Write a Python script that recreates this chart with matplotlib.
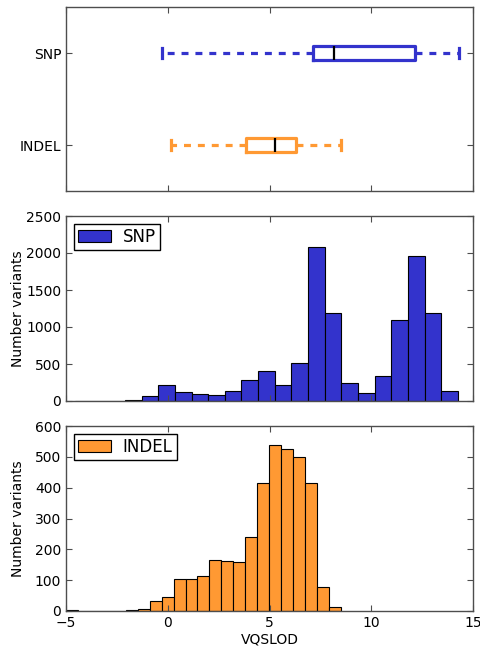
import numpy as np
import matplotlib
matplotlib.use("Agg")
import matplotlib.pyplot as plt

# ---------------- data ----------------
labels = ["INDEL", "SNP"]
# box statistics: whisker low, q1, median, q3, whisker high
indel_box = [0.18, 3.84, 5.26, 6.29, 8.5]
snp_box = [-0.28, 7.16, 8.19, 12.14, 14.31]

snp_range = (-4.56, 14.26)
snp_counts = [2, 0, 4, 10, 63, 220, 127, 100, 86, 140, 285, 403, 213, 520,
              2077, 1195, 244, 104, 339, 1090, 1955, 1186, 131]
indel_range = (-5.0, 8.51)
indel_counts = [2, 0, 0, 1, 1, 2, 5, 33, 47, 103, 105, 115, 164, 163, 160,
                241, 415, 540, 526, 500, 415, 79, 14]

xticks = [-5, 0, 5, 10, 15]
snp_yticks = [0, 500, 1000, 1500, 2000, 2500]
indel_yticks = [0, 100, 200, 300, 400, 500, 600]

snp_color = "#3333cc"
indel_color = "#ff9933"

plt.rcParams["font.family"] = "DejaVu Sans"
plt.rcParams["font.size"] = 10
plt.rcParams["lines.scale_dashes"] = False

fig = plt.figure(figsize=(4.8, 6.46), dpi=100)
L, W = 66 / 480, 407 / 480
ax0 = fig.add_axes([L, 1 - 191 / 646, W, 184 / 646])
ax1 = fig.add_axes([L, 1 - 401 / 646, W, 185 / 646])
ax2 = fig.add_axes([L, 1 - 611 / 646, W, 185 / 646])

def style(ax):
    ax.tick_params(direction="in", top=True, right=True, length=4, width=0.8,
                   labelsize=10, color="0.3")
    for s in ax.spines.values():
        s.set_color("0.3")
        s.set_linewidth(1.0)
    ax.set_xlim(-5, 15)
    ax.set_xticks(xticks)

# ---- boxplot ----
stats = []
for lab, b in zip(labels, [indel_box, snp_box]):
    stats.append(dict(label=lab, whislo=b[0], q1=b[1], med=b[2], q3=b[3], whishi=b[4]))
for pos, st, col in zip([1, 2], stats, [indel_color, snp_color]):
    ax0.bxp([st], positions=[pos], orientation="horizontal", widths=0.16,
            capwidths=0.11, showfliers=False, patch_artist=False,
            boxprops=dict(color=col, linewidth=2.3),
            whiskerprops=dict(color=col, linewidth=2.3, linestyle=(0, (5, 5))),
            capprops=dict(color=col, linewidth=2.3),
            medianprops=dict(color="black", linewidth=1.6))
ax0.set_ylim(0.5, 2.5)
ax0.set_yticks([1, 2])
ax0.set_yticklabels(labels)
style(ax0)
ax0.tick_params(labelbottom=False)

# ---- histograms ----
def hist(ax, rng, counts, color, label, yticks):
    edges = np.linspace(rng[0], rng[1], len(counts) + 1)
    ax.bar(edges[:-1], counts, width=np.diff(edges), align="edge",
           color=color, edgecolor="black", linewidth=0.8, label=label)
    ax.set_ylim(yticks[0], yticks[-1])
    ax.set_yticks(yticks)
    ax.set_ylabel("Number variants", fontsize=10)
    leg = ax.legend(loc="upper left", fontsize=12, fancybox=False,
                    handlelength=2.0, handleheight=0.7, borderpad=0.25,
                    handletextpad=0.7, borderaxespad=0.45, framealpha=1)
    leg.get_frame().set_edgecolor("black")
    leg.get_frame().set_linewidth(1.0)
    style(ax)

hist(ax1, snp_range, snp_counts, snp_color, "SNP", snp_yticks)
ax1.tick_params(labelbottom=False)
hist(ax2, indel_range, indel_counts, indel_color, "INDEL", indel_yticks)
ax2.set_xlabel("VQSLOD", fontsize=10, labelpad=2)
ax1.yaxis.set_label_coords(-0.1, 0.5)
ax2.yaxis.set_label_coords(-0.1, 0.5)

fig.savefig("out.png", dpi=100)
